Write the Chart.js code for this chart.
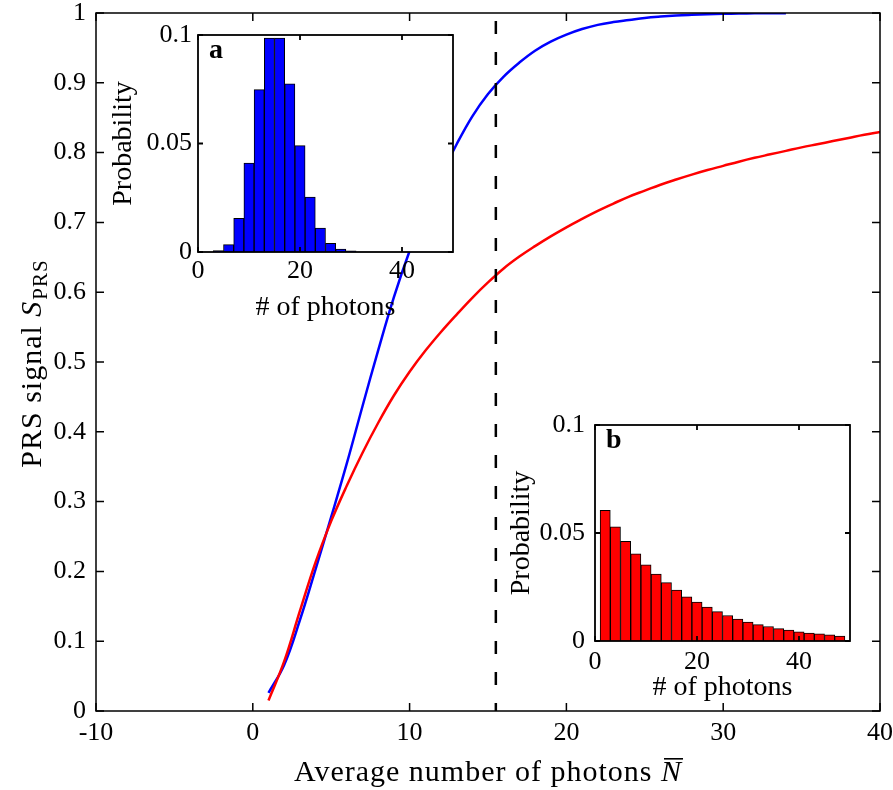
<!DOCTYPE html>
<html>
<head>
<meta charset="utf-8">
<title>PRS signal vs average number of photons</title>
<script src="https://cdn.jsdelivr.net/npm/chart.js@4.4.1/dist/chart.umd.min.js"></script>
<style>
  html, body { margin: 0; padding: 0; background: #fff; }
  #wrap { position: relative; width: 893px; height: 790px; background: #fff; }
  canvas { position: absolute; }
</style>
</head>
<body>
<div id="wrap">
  <canvas id="main" width="893" height="790" style="left:0;top:0"></canvas>
  <canvas id="insetA" width="360" height="300" style="left:100px;top:25px"></canvas>
  <canvas id="insetB" width="365" height="290" style="left:495px;top:415px"></canvas>
</div>
<script>
// ====================== Data ======================
const avgPhotons = [1, 2, 3, 4, 5, 6, 7, 8, 9, 10, 11, 12, 13, 14, 15, 16, 17, 18, 19, 20,
  21, 22, 23, 24, 25, 26, 27, 28, 29, 30, 31, 32, 33, 34, 35, 36, 37, 38, 39, 40];

// blue curve (stops near N = 34)
const blueSignal = [0.026, 0.066, 0.130, 0.203, 0.278, 0.355, 0.437, 0.517, 0.593, 0.659,
  0.716, 0.767, 0.812, 0.852, 0.884, 0.909, 0.929, 0.946, 0.959, 0.969,
  0.977, 0.983, 0.987, 0.990, 0.993, 0.995, 0.9965, 0.9975, 0.9983, 0.9988,
  0.9992, 0.9995, 0.9997, 0.9998];

// red curve
const redSignal = [0.015, 0.071, 0.143, 0.213, 0.272, 0.323, 0.370, 0.413, 0.452, 0.486,
  0.516, 0.543, 0.568, 0.592, 0.614, 0.634, 0.651, 0.666, 0.680, 0.693,
  0.705, 0.7165, 0.727, 0.737, 0.7455, 0.754, 0.7615, 0.7685, 0.775, 0.781,
  0.787, 0.7925, 0.7975, 0.8025, 0.8075, 0.812, 0.8165, 0.821, 0.8255, 0.8295];

const markerN = 15.5;           // dashed vertical line
const xTicks = [-10, 0, 10, 20, 30, 40];
const yTicks = [0, 0.1, 0.2, 0.3, 0.4, 0.5, 0.6, 0.7, 0.8, 0.9, 1];

// inset a (blue histogram)
const histA_photons = [4, 6, 8, 10, 12, 14, 16, 18, 20, 22, 24, 26, 28, 30];
const histA_prob = [0.0006, 0.0034, 0.0155, 0.041, 0.0748, 0.0986, 0.0986, 0.0775,
  0.049, 0.0253, 0.011, 0.004, 0.0014, 0.0005];

// inset b (red histogram)
const histB_photons = [2, 4, 6, 8, 10, 12, 14, 16, 18, 20, 22, 24, 26, 28, 30, 32,
  34, 36, 38, 40, 42, 44, 46, 48];
const histB_prob = [0.0605, 0.0529, 0.0462, 0.0403, 0.0353, 0.031, 0.027, 0.0236,
  0.0205, 0.018, 0.0157, 0.0136, 0.0118, 0.0102, 0.0088, 0.0076, 0.0067, 0.0057,
  0.005, 0.0043, 0.0037, 0.0033, 0.0028, 0.0023];

const insetXTicks = [0, 20, 40];
const insetYTicks = [0, 0.05, 0.1];

// ====================== Styling helpers ======================
const SERIF = '"Liberation Serif", "Times New Roman", serif';
const tickFont = { family: SERIF, size: 26 };

// box around the plot area plus inward ticks on all four sides
const framePlugin = {
  id: 'frame',
  beforeDraw(chart, args, opts) {
    if (!opts.fill) return;
    const { ctx, chartArea: a } = chart;
    ctx.save();
    ctx.fillStyle = '#fff';
    ctx.fillRect(a.left, a.top, a.right - a.left, a.bottom - a.top);
    ctx.restore();
  },
  afterDraw(chart, args, opts) {
    const { ctx, chartArea: a, scales: { x, y } } = chart;
    const len = opts.tick || 8;
    ctx.save();
    ctx.strokeStyle = '#000';
    ctx.lineWidth = opts.lineWidth || 1.5;
    ctx.beginPath();
    x.ticks.forEach(t => {
      const px = x.getPixelForValue(t.value);
      ctx.moveTo(px, a.bottom); ctx.lineTo(px, a.bottom - len);
      ctx.moveTo(px, a.top); ctx.lineTo(px, a.top + len);
    });
    y.ticks.forEach(t => {
      const py = y.getPixelForValue(t.value);
      ctx.moveTo(a.left, py); ctx.lineTo(a.left + len, py);
      ctx.moveTo(a.right, py); ctx.lineTo(a.right - len, py);
    });
    ctx.stroke();
    ctx.strokeRect(a.left, a.top, a.right - a.left, a.bottom - a.top);
    if (opts.letter) {
      ctx.fillStyle = '#000';
      ctx.font = 'bold 28px ' + SERIF;
      ctx.textBaseline = 'alphabetic';
      ctx.fillText(opts.letter, a.left + 11, a.top + 23);
    }
    ctx.restore();
  }
};

// axis titles of the main plot (italic symbol, subscript, overbar)
const mainTitles = {
  id: 'mainTitles',
  afterDraw(chart) {
    const { ctx, chartArea: a } = chart;
    const reg = '30px ' + SERIF, ital = 'italic 30px ' + SERIF, sub = '21px ' + SERIF;
    ctx.save();
    ctx.fillStyle = '#000';
    ctx.textBaseline = 'alphabetic';
    ctx.textAlign = 'left';
    if ('letterSpacing' in ctx) ctx.letterSpacing = '1px';

    // x title
    const xt = 'Average number of photons ';
    ctx.font = reg; const w1 = ctx.measureText(xt).width;
    ctx.font = ital; const w2 = ctx.measureText('N').width;
    const x0 = (a.left + a.right) / 2 - (w1 + w2) / 2, base = 781;
    ctx.font = reg; ctx.fillText(xt, x0, base);
    ctx.font = ital; ctx.fillText('N', x0 + w1, base);
    ctx.fillRect(x0 + w1 + 3, base - 23, w2 - 2, 1.6);

    // y title (rotated)
    const yt = 'PRS signal ';
    ctx.font = reg; const v1 = ctx.measureText(yt).width;
    ctx.font = ital; const v2 = ctx.measureText('S').width;
    ctx.font = sub; const v3 = ctx.measureText('PRS').width;
    ctx.translate(41, (a.top + a.bottom) / 2 + 2);
    ctx.rotate(-Math.PI / 2);
    const s0 = -(v1 + v2 + v3) / 2;
    ctx.font = reg; ctx.fillText(yt, s0, 0);
    ctx.font = ital; ctx.fillText('S', s0 + v1, 0);
    ctx.font = sub; ctx.fillText('PRS', s0 + v1 + v2 + 1, 6);
    ctx.restore();
  }
};

function fixedTicks(values) {
  return scale => { scale.ticks = values.map(v => ({ value: v })); };
}

function axisSize(prop, size) {
  return scale => {
    scale[prop] = size;
    scale.paddingTop = 0; scale.paddingBottom = 0;
    scale.paddingLeft = 0; scale.paddingRight = 0;
  };
}

// ====================== Main chart ======================
new Chart(document.getElementById('main'), {
  type: 'line',
  data: {
    datasets: [
      {
        data: [{ x: markerN, y: 1 }, { x: markerN, y: 0 }],
        borderColor: '#000',
        borderWidth: 2.5,
        borderDash: [13, 18],
        borderDashOffset: 23,
        pointRadius: 0
      },
      {
        data: redSignal.map((v, i) => ({ x: avgPhotons[i], y: v })),
        borderColor: '#ff0000',
        borderWidth: 2.5,
        pointRadius: 0,
        tension: 0.4
      },
      {
        data: blueSignal.map((v, i) => ({ x: avgPhotons[i], y: v })),
        borderColor: '#0000ff',
        borderWidth: 2.5,
        pointRadius: 0,
        tension: 0.4
      }
    ]
  },
  options: {
    responsive: false,
    animation: false,
    layout: { padding: { top: 13, right: 13, left: 0, bottom: 0 } },
    plugins: { legend: { display: false }, tooltip: { enabled: false }, frame: { tick: 8, lineWidth: 1.5 } },
    scales: {
      x: {
        type: 'linear', min: -10, max: 40,
        afterBuildTicks: fixedTicks(xTicks),
        afterFit: axisSize('height', 79),
        grid: { display: false, drawTicks: false },
        border: { display: false },
        ticks: { font: tickFont, color: '#000', padding: 7, maxRotation: 0, callback: v => String(v) }
      },
      y: {
        type: 'linear', min: 0, max: 1,
        afterBuildTicks: fixedTicks(yTicks),
        afterFit: axisSize('width', 96),
        grid: { display: false, drawTicks: false },
        border: { display: false },
        ticks: { font: tickFont, color: '#000', padding: 10, callback: v => String(+v.toFixed(2)) }
      }
    }
  },
  plugins: [framePlugin, mainTitles]
});

// ====================== Insets ======================
function makeInset(id, photons, prob, color, letter, box) {
  new Chart(document.getElementById(id), {
    type: 'bar',
    data: {
      datasets: [{
        data: prob.map((v, i) => ({ x: photons[i], y: v })),
        backgroundColor: color,
        borderColor: '#000',
        borderWidth: 1,
        barPercentage: 1,
        categoryPercentage: 1
      }]
    },
    options: {
      responsive: false,
      animation: false,
      layout: { padding: { top: box.top, right: box.right, left: 0, bottom: 0 } },
      plugins: {
        legend: { display: false }, tooltip: { enabled: false },
        frame: { tick: 5, lineWidth: 1.8, fill: true, letter: letter }
      },
      scales: {
        x: {
          type: 'linear', min: 0, max: 50, offset: false,
          afterBuildTicks: fixedTicks(insetXTicks),
          afterFit: axisSize('height', box.xh),
          grid: { display: false, drawTicks: false, offset: false },
          border: { display: false },
          ticks: { font: tickFont, color: '#000', padding: box.xpad, maxRotation: 0, callback: v => String(v) },
          title: { display: true, text: '# of photons', font: { family: SERIF, size: 28 }, color: '#000', padding: { bottom: box.xtpad } }
        },
        y: {
          type: 'linear', min: 0, max: 0.1,
          afterBuildTicks: fixedTicks(insetYTicks),
          afterFit: axisSize('width', box.yw),
          grid: { display: false, drawTicks: false },
          border: { display: false },
          ticks: { font: tickFont, color: '#000', padding: box.ypad, callback: v => String(+v.toFixed(3)) },
          title: { display: true, text: 'Probability', font: { family: SERIF, size: 28 }, color: '#000', padding: { top: box.ytpad } }
        }
      }
    },
    plugins: [framePlugin]
  });
}

makeInset('insetA', histA_photons, histA_prob, '#0000ff', 'a',
  { top: 10, right: 7, xh: 73, yw: 98, xpad: 4, ypad: 6, xtpad: 1, ytpad: 7 });
makeInset('insetB', histB_photons, histB_prob, '#ff0000', 'b',
  { top: 10, right: 10, xh: 64, yw: 100, xpad: 6, ypad: 10, xtpad: 1, ytpad: 10 });
</script>
</body>
</html>
